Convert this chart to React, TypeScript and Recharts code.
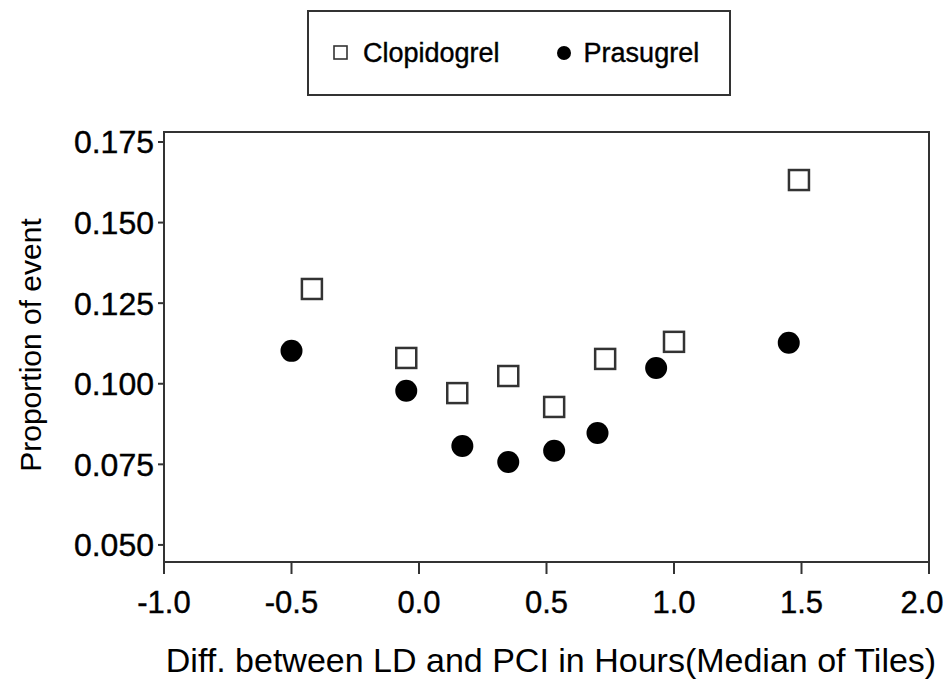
import React from 'react';
import {
  ScatterChart,
  Scatter,
  XAxis,
  YAxis,
  Label,
  ReferenceArea,
} from 'recharts';

// values
const clopidogrelX = [-0.42, -0.05, 0.15, 0.35, 0.53, 0.73, 1.0, 1.49];
const clopidogrelY = [0.1294, 0.108, 0.0971, 0.1024, 0.0928, 0.1077, 0.113, 0.1632];
const prasugrelX = [-0.5, -0.05, 0.17, 0.35, 0.53, 0.7, 0.93, 1.45];
const prasugrelY = [0.1102, 0.0978, 0.0807, 0.0757, 0.0792, 0.0847, 0.1049, 0.1127];

const xTicks = [-1, -0.5, 0, 0.5, 1, 1.5, 2];
const yTicks = [0.05, 0.075, 0.1, 0.125, 0.15, 0.175];
const xDomain: [number, number] = [-1, 2];
const yDomain: [number, number] = [0.0447, 0.1781];

const clopidogrelData = clopidogrelX.map((x, i) => ({ x, y: clopidogrelY[i] }));
const prasugrelData = prasugrelX.map((x, i) => ({ x, y: prasugrelY[i] }));

const FONT = '"Liberation Sans", Arial, sans-serif';
const INK = '#000';

const SquareMark = (props: any) => {
  const { cx, cy } = props;
  return <rect x={cx - 10} y={cy - 10} width={20} height={20} fill="#fff" stroke="#333" strokeWidth={2.5} />;
};

const DotMark = (props: any) => {
  const { cx, cy } = props;
  return <circle cx={cx} cy={cy} r={11} fill="#000" />;
};

// keep the last label inside the page, as in the scan
const XTick = (props: any) => {
  const { x, y, payload } = props;
  const cx = Math.min(x, 922);
  return (
    <text x={cx} y={y} dy="0.71em" textAnchor="middle" fontSize={31} fontFamily={FONT} fill={INK} stroke={INK} strokeWidth={0.4}>
      {Number(payload.value).toFixed(1)}
    </text>
  );
};

function LegendBox() {
  return (
    <div
      style={{
        position: 'absolute',
        left: 307,
        top: 10,
        boxSizing: 'border-box',
        width: 424,
        height: 86,
        border: '2px solid #333',
        display: 'flex',
        alignItems: 'center',
        fontFamily: FONT,
        fontSize: 27,
        color: INK,
        paddingLeft: 24,
        background: '#fff',
        WebkitTextStroke: '0.4px #000',
      }}
    >
      <svg width={16} height={16} style={{ marginRight: 14 }}>
        <rect x={1} y={1} width={13} height={13} fill="#fff" stroke="#333" strokeWidth={1.6} />
      </svg>
      <span style={{ marginRight: 56 }}>Clopidogrel</span>
      <svg width={16} height={16} style={{ marginRight: 12 }}>
        <circle cx={8} cy={8} r={7} fill="#000" />
      </svg>
      <span>Prasugrel</span>
    </div>
  );
}

export default function App() {
  return (
    <div style={{ position: 'absolute', left: 0, top: 0, width: 945, height: 684, background: '#fff' }}>
      <ScatterChart width={945} height={684} margin={{ top: 132, right: 16, bottom: 62, left: 64 }}>
        <XAxis
          type="number"
          dataKey="x"
          domain={xDomain}
          ticks={xTicks}
          allowDataOverflow
          height={60}
          tickSize={12}
          tickMargin={17}
          tick={<XTick />}
          axisLine={{ stroke: '#333', strokeWidth: 2 }}
          tickLine={{ stroke: '#333', strokeWidth: 2 }}
        >
          <Label
            content={() => (
              <text x={551} y={660} textAnchor="middle" dominantBaseline="central" fontSize={34} fontFamily={FONT} fill={INK}>
                Diff. between LD and PCI in Hours(Median of Tiles)
              </text>
            )}
          />
        </XAxis>
        <YAxis
          type="number"
          dataKey="y"
          domain={yDomain}
          ticks={yTicks}
          allowDataOverflow
          width={100}
          tickSize={6}
          tickMargin={4}
          tickFormatter={(v: number) => v.toFixed(3)}
          tick={{ fontSize: 32, fontFamily: FONT, fill: INK, stroke: INK, strokeWidth: 0.4 }}
          axisLine={{ stroke: '#333', strokeWidth: 2 }}
          tickLine={{ stroke: '#333', strokeWidth: 2 }}
        >
          <Label
            content={() => (
              <text
                x={30}
                y={345}
                transform="rotate(-90 30 345)"
                textAnchor="middle"
                dominantBaseline="central"
                fontSize={30}
                fontFamily={FONT}
                fill={INK}
              >
                Proportion of event
              </text>
            )}
          />
        </YAxis>
        <ReferenceArea
          x1={xDomain[0]}
          x2={xDomain[1]}
          y1={yDomain[0]}
          y2={yDomain[1]}
          fill="none"
          stroke="#333"
          strokeWidth={2}
        />
        <Scatter name="Clopidogrel" data={clopidogrelData} shape={SquareMark} isAnimationActive={false} />
        <Scatter name="Prasugrel" data={prasugrelData} shape={DotMark} isAnimationActive={false} />
      </ScatterChart>
      <LegendBox />
    </div>
  );
}
